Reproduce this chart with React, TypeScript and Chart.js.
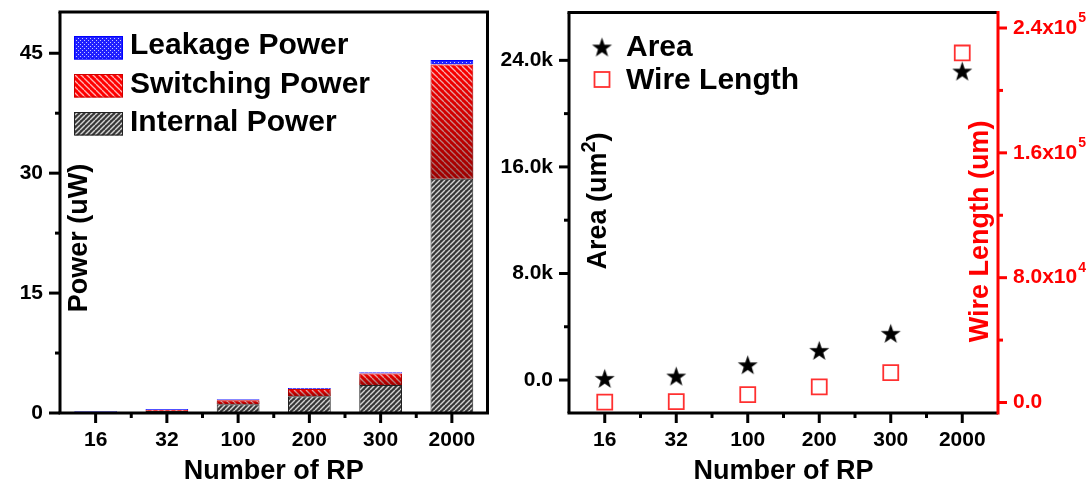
import React, { useEffect, useRef } from 'react';
import { Chart, registerables } from 'chart.js';

Chart.register(...registerables);

// ---------------- data ----------------
const categories = ['16', '32', '100', '200', '300', '2000'];
const internalPower = [0.08, 0.25, 1.1, 2.1, 3.5, 29.3];
const switchingPower = [0.04, 0.12, 0.5, 0.9, 1.45, 14.3];
const leakagePower = [0.1, 0.12, 0.12, 0.12, 0.15, 0.55];
const powerTicks = [0, 15, 30, 45];

const areaValues = [125, 300, 1150, 2230, 3510, 23200];
const wireLengthValues = [300, 600, 5000, 10000, 19200, 224000];
const areaTicks = [0, 8000, 16000, 24000];
const areaTickLabels = ['0.0', '8.0k', '16.0k', '24.0k'];
const wireTicks = [0, 80000, 160000, 240000];
const wireTickMain = ['0.0', '8.0x10', '1.6x10', '2.4x10'];
const wireTickExp = ['', '4', '5', '5'];

const FAMILY = '"Liberation Sans", Arial, Helvetica, sans-serif';
const bold = (size: number) => `bold ${size}px ${FAMILY}`;
const RED = '#ff0000';
const RIGHT_OFFSET = 495;

function stripePattern(ctx: CanvasRenderingContext2D, base: string, stripe: string, dir: number, period: number, lw: number) {
  const c = document.createElement('canvas');
  c.width = period;
  c.height = period;
  const g = c.getContext('2d')!;
  g.fillStyle = base;
  g.fillRect(0, 0, period, period);
  g.strokeStyle = stripe;
  g.lineWidth = lw;
  for (const o of [-period, 0, period]) {
    g.beginPath();
    if (dir === 1) {
      g.moveTo(o, period);
      g.lineTo(o + period, 0);
    } else {
      g.moveTo(o, 0);
      g.lineTo(o + period, period);
    }
    g.stroke();
  }
  return ctx.createPattern(c, 'repeat')!;
}

function dotPattern(ctx: CanvasRenderingContext2D) {
  const c = document.createElement('canvas');
  c.width = 4;
  c.height = 4;
  const g = c.getContext('2d')!;
  g.fillStyle = '#2020ff';
  g.fillRect(0, 0, 4, 4);
  g.fillStyle = '#c8c8ff';
  g.fillRect(0, 0, 1, 1);
  g.fillRect(2, 2, 1, 1);
  return ctx.createPattern(c, 'repeat')!;
}

function starImage(R: number) {
  const size = Math.ceil(R * 2 + 2);
  const c = document.createElement('canvas');
  c.width = size;
  c.height = size;
  const g = c.getContext('2d')!;
  const cx = size / 2;
  const cy = size / 2 + R * 0.1;
  const r = R * 0.4;
  g.beginPath();
  for (let i = 0; i < 10; i++) {
    const rad = i % 2 === 0 ? R : r;
    const ang = -Math.PI / 2 + (i * Math.PI) / 5;
    const px = cx + rad * Math.cos(ang);
    const py = cy + rad * Math.sin(ang);
    if (i === 0) g.moveTo(px, py);
    else g.lineTo(px, py);
  }
  g.closePath();
  g.fillStyle = '#000';
  g.fill();
  return c;
}

function rotatedText(ctx: CanvasRenderingContext2D, cy: number, baselineX: number, parts: { t: string; size: number; rise: number }[], color: string) {
  ctx.save();
  ctx.fillStyle = color;
  let total = 0;
  const widths = parts.map((p) => {
    ctx.font = bold(p.size);
    const w = ctx.measureText(p.t).width;
    total += w;
    return w;
  });
  ctx.translate(baselineX, cy);
  ctx.rotate(-Math.PI / 2);
  ctx.textBaseline = 'alphabetic';
  ctx.textAlign = 'left';
  let x = -total / 2;
  parts.forEach((p, i) => {
    ctx.font = bold(p.size);
    ctx.fillText(p.t, x, -p.rise);
    x += widths[i];
  });
  ctx.restore();
}

function seg(ctx: CanvasRenderingContext2D, x1: number, y1: number, x2: number, y2: number, color: string, w: number) {
  ctx.beginPath();
  ctx.strokeStyle = color;
  ctx.lineWidth = w;
  ctx.moveTo(x1, y1);
  ctx.lineTo(x2, y2);
  ctx.stroke();
}

const noPadV = (width: number) => (s: any) => {
  s.width = width;
  s.paddingTop = 0;
  s.paddingBottom = 0;
};
const noPadH = (height: number) => (s: any) => {
  s.height = height;
  s.paddingLeft = 0;
  s.paddingRight = 0;
};

export default function App() {
  const leftRef = useRef<HTMLCanvasElement>(null);
  const rightRef = useRef<HTMLCanvasElement>(null);

  useEffect(() => {
    const lc = leftRef.current!;
    const rc = rightRef.current!;
    const lctx = lc.getContext('2d')!;
    const internalFill = stripePattern(lctx, '#383838', '#d4d4d4', 1, 5, 1.4);
    const switchingFill = stripePattern(lctx, '#ff0000', '#ffb4b4', -1, 6, 1.3);
    const leakageFill = dotPattern(lctx);
    const star = starImage(10.5);

    const leftDecor = {
      id: 'leftDecor',
      afterDatasetsDraw(chart: any) {
        const ctx = chart.ctx;
        const meta = chart.getDatasetMeta(1);
        meta.data.forEach((el: any) => {
          const { x, y, base, width } = el.getProps(['x', 'y', 'base', 'width'], true);
          const top = Math.min(y, base);
          const bot = Math.max(y, base);
          if (bot - top < 3) return;
          const g = ctx.createLinearGradient(0, top, 0, bot);
          g.addColorStop(0, 'rgba(0,0,0,0)');
          g.addColorStop(1, 'rgba(40,0,0,0.45)');
          ctx.fillStyle = g;
          ctx.fillRect(x - width / 2, top, width, bot - top);
        });
      },
      afterDraw(chart: any) {
        const ctx = chart.ctx;
        const xs = chart.scales.x;
        const ys = chart.scales.y;
        const L = xs.left, R = xs.right, T = ys.top, B = ys.bottom;
        ctx.save();
        seg(ctx, L - 1.5, T, R + 1.5, T, '#000', 3);
        seg(ctx, L - 1.5, B, R + 1.5, B, '#000', 3);
        seg(ctx, L, T, L, B, '#000', 3);
        seg(ctx, R, T, R, B, '#000', 3);
        powerTicks.forEach((v, i) => {
          const p = ys.getPixelForValue(v);
          seg(ctx, L - 11, p, L, p, '#000', 3);
          if (i < powerTicks.length - 1) {
            const q = ys.getPixelForValue((v + powerTicks[i + 1]) / 2);
            seg(ctx, L - 5, q, L, q, '#000', 3);
          }
        });
        categories.forEach((_, i) => {
          const p = xs.getPixelForValue(i);
          seg(ctx, p, B, p, B + 10, '#000', 3);
          if (i < categories.length - 1) {
            const q = (p + xs.getPixelForValue(i + 1)) / 2;
            seg(ctx, q, B, q, B + 5, '#000', 3);
          }
        });

        rotatedText(ctx, 238, 87, [{ t: 'Power (uW)', size: 27, rise: 0 }], '#000');
        ctx.fillStyle = '#000';
        ctx.font = bold(27);
        ctx.textAlign = 'center';
        ctx.textBaseline = 'alphabetic';
        ctx.fillText('Number of RP', (L + R) / 2, 479);

        const rows = [
          { ds: 2, base: 54, top: 36 },
          { ds: 1, base: 92.5, top: 74 },
          { ds: 0, base: 131, top: 112 },
        ];
        rows.forEach((r) => {
          const ds = chart.data.datasets[r.ds];
          ctx.fillStyle = ds.backgroundColor;
          ctx.fillRect(74, r.top, 49, 23.5);
          ctx.lineWidth = 1;
          ctx.strokeStyle = ds.borderColor;
          ctx.strokeRect(74.5, r.top + 0.5, 48, 22.5);
          ctx.fillStyle = '#000';
          ctx.font = bold(30);
          ctx.textAlign = 'left';
          ctx.fillText(ds.label, 130, r.base);
        });
        ctx.restore();
      },
    };

    const left = new Chart(lc, {
      type: 'bar',
      data: {
        labels: categories,
        datasets: [
          { label: 'Internal Power', data: internalPower, backgroundColor: internalFill, borderColor: '#222', borderWidth: 1, barPercentage: 0.6, categoryPercentage: 1 },
          { label: 'Switching Power', data: switchingPower, backgroundColor: switchingFill, borderColor: '#d00000', borderWidth: 1, barPercentage: 0.6, categoryPercentage: 1 },
          { label: 'Leakage Power', data: leakagePower, backgroundColor: leakageFill, borderColor: '#0000ff', borderWidth: 1, barPercentage: 0.6, categoryPercentage: 1 },
        ],
      } as any,
      options: {
        animation: false,
        responsive: false,
        layout: { padding: { top: 12, right: 7.5, left: 0, bottom: 0 } },
        plugins: { legend: { display: false }, tooltip: { enabled: false } },
        scales: {
          x: {
            stacked: true,
            offset: true,
            grid: { display: false, drawTicks: false },
            border: { display: false },
            ticks: { font: { family: FAMILY, size: 21, weight: 'bold' }, color: '#000', padding: 15 },
            afterFit: noPadH(72),
          },
          y: {
            stacked: true,
            min: 0,
            max: 50.16,
            afterBuildTicks: (s: any) => { s.ticks = powerTicks.map((v) => ({ value: v })); },
            grid: { display: false, drawTicks: false },
            border: { display: false },
            ticks: { font: { family: FAMILY, size: 21, weight: 'bold' }, color: '#000', padding: 17 },
            afterFit: noPadV(60),
          },
        },
      } as any,
      plugins: [leftDecor],
    });

    const rightDecor = {
      id: 'rightDecor',
      afterDraw(chart: any) {
        const ctx = chart.ctx;
        const xs = chart.scales.x;
        const ya = chart.scales.yA;
        const yw = chart.scales.yW;
        const L = xs.left, R = xs.right, T = ya.top, B = ya.bottom;
        ctx.save();
        seg(ctx, L - 1.5, T, R, T, '#000', 3);
        seg(ctx, L - 1.5, B, R, B, '#000', 3);
        seg(ctx, L, T, L, B, '#000', 3);
        areaTicks.forEach((v) => {
          const p = ya.getPixelForValue(v);
          seg(ctx, L - 10, p, L, p, '#000', 3);
          const q = ya.getPixelForValue(v + 4000);
          if (q > T + 2) seg(ctx, L - 5, q, L, q, '#000', 3);
        });
        categories.forEach((_, i) => {
          const p = xs.getPixelForValue(i);
          seg(ctx, p, B, p, B + 10, '#000', 3);
          if (i < categories.length - 1) {
            const q = (p + xs.getPixelForValue(i + 1)) / 2;
            seg(ctx, q, B, q, B + 5, '#000', 3);
          }
        });

        // right axis in red
        seg(ctx, R, T - 1.5, R, B + 1.5, RED, 3);
        wireTicks.forEach((v) => {
          const p = yw.getPixelForValue(v);
          seg(ctx, R, p, R + 9, p, RED, 3);
          const q = yw.getPixelForValue(v + 40000);
          if (q > T + 2) seg(ctx, R, q, R + 5, q, RED, 3);
        });
        ctx.fillStyle = RED;
        ctx.textBaseline = 'middle';
        ctx.textAlign = 'left';
        wireTicks.forEach((v, i) => {
          const p = yw.getPixelForValue(v);
          ctx.font = bold(21);
          ctx.fillText(wireTickMain[i], R + 15, p);
          if (wireTickExp[i]) {
            const w = ctx.measureText(wireTickMain[i]).width;
            ctx.font = bold(14);
            ctx.fillText(wireTickExp[i], R + 15 + w + 1, p - 10);
          }
        });

        rotatedText(ctx, 201, 606 - RIGHT_OFFSET, [
          { t: 'Area (um', size: 27, rise: 0 },
          { t: '2', size: 20, rise: 11 },
          { t: ')', size: 27, rise: 0 },
        ], '#000');
        rotatedText(ctx, 231.5, 988 - RIGHT_OFFSET, [{ t: 'Wire Length (um)', size: 27, rise: 0 }], RED);
        ctx.fillStyle = '#000';
        ctx.font = bold(27);
        ctx.textAlign = 'center';
        ctx.textBaseline = 'alphabetic';
        ctx.fillText('Number of RP', (L + R) / 2, 479);

        const lx = 602 - RIGHT_OFFSET;
        ctx.drawImage(star, lx - star.width / 2, 47 - star.height / 2);
        ctx.lineWidth = 1.8;
        ctx.strokeStyle = '#ff3030';
        ctx.fillStyle = '#fff';
        ctx.fillRect(lx - 7.5, 72, 15, 15);
        ctx.strokeRect(lx - 7.5, 72, 15, 15);
        ctx.fillStyle = '#000';
        ctx.font = bold(30);
        ctx.textAlign = 'left';
        ctx.fillText(chart.data.datasets[0].label, 626 - RIGHT_OFFSET, 56);
        ctx.fillText(chart.data.datasets[1].label, 626 - RIGHT_OFFSET, 89);
        ctx.restore();
      },
    };

    const right = new Chart(rc, {
      type: 'line',
      data: {
        labels: categories,
        datasets: [
          { label: 'Area', data: areaValues, yAxisID: 'yA', showLine: false, pointStyle: star, pointRadius: 10, borderColor: '#000', backgroundColor: '#000' },
          { label: 'Wire Length', data: wireLengthValues, yAxisID: 'yW', showLine: false, pointStyle: 'rect', pointRadius: 10.6, pointBorderWidth: 1.8, pointBorderColor: '#ff3030', pointBackgroundColor: '#ffffff', borderColor: '#ff3030' },
        ],
      } as any,
      options: {
        animation: false,
        responsive: false,
        layout: { padding: { top: 12, right: 0, left: 0, bottom: 0 } },
        plugins: { legend: { display: false }, tooltip: { enabled: false } },
        scales: {
          x: {
            type: 'category',
            offset: true,
            grid: { display: false, drawTicks: false },
            border: { display: false },
            ticks: { font: { family: FAMILY, size: 21, weight: 'bold' }, color: '#000', padding: 15 },
            afterFit: noPadH(72),
          },
          yA: {
            position: 'left',
            min: -2475,
            max: 27600,
            afterBuildTicks: (s: any) => { s.ticks = areaTicks.map((v) => ({ value: v })); },
            grid: { display: false, drawTicks: false },
            border: { display: false },
            ticks: {
              font: { family: FAMILY, size: 21, weight: 'bold' },
              color: '#000',
              padding: 16,
              callback: (v: any) => areaTickLabels[areaTicks.indexOf(Number(v))] ?? '',
            },
            afterFit: noPadV(74),
          },
          yW: {
            position: 'right',
            min: -6720,
            max: 250000,
            afterBuildTicks: (s: any) => { s.ticks = wireTicks.map((v) => ({ value: v })); },
            grid: { display: false, drawTicks: false },
            border: { display: false },
            ticks: { display: false },
            afterFit: noPadV(94),
          },
        },
      } as any,
      plugins: [rightDecor],
    });

    return () => {
      left.destroy();
      right.destroy();
    };
  }, []);

  return (
    <div style={{ position: 'absolute', left: 0, top: 0, width: 1092, height: 485, background: '#fff', overflow: 'hidden' }}>
      <canvas ref={leftRef} width={495} height={485} style={{ position: 'absolute', left: 0, top: 0, width: 495, height: 485 }} />
      <canvas ref={rightRef} width={597} height={485} style={{ position: 'absolute', left: RIGHT_OFFSET, top: 0, width: 597, height: 485 }} />
    </div>
  );
}
